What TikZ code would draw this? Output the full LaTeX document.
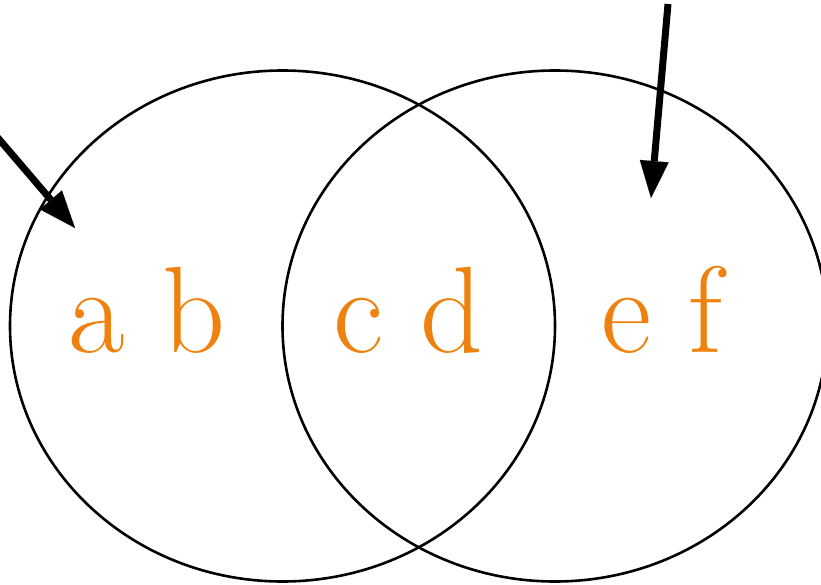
\documentclass[tikz,border=0pt]{standalone}
\usepackage{xcolor}
\usetikzlibrary{arrows.meta,shapes.geometric}
\definecolor{lettercol}{HTML}{EF820E}

\begin{document}
\begin{tikzpicture}[
  x=1pt, y=-1pt,
  setring/.style={ellipse, draw=black, line width=2.6pt, inner sep=0pt,
                  minimum width=545pt, minimum height=511pt},
  letters/.style={anchor=base, inner sep=0pt, text=lettercol,
                  font=\fontsize{123}{130}\selectfont},
  fat/.style={line width=7pt, draw=black,
              -{Triangle[length=37pt, width=29pt, line width=0.1pt]}},
]
\useasboundingbox (0,0) rectangle (821,585);
\node[setring] (left) at (282.5,326) {};
\node[setring] (right) at (555,326) {};
\node[letters] (ab) at (147,352) {a b};
\node[letters] (cd) at (408,352) {c d};
\node[letters] (ef) at (662,352) {e f};
% pointers
\coordinate (ltail) at (-8,131);
\coordinate (lhead) at (75,228);
\coordinate (rtail) at (668,4);
\coordinate (rhead) at (651,198);
\draw[fat] (ltail) -- (lhead);
\draw[fat] (rtail) -- (rhead);
\end{tikzpicture}
\end{document}
